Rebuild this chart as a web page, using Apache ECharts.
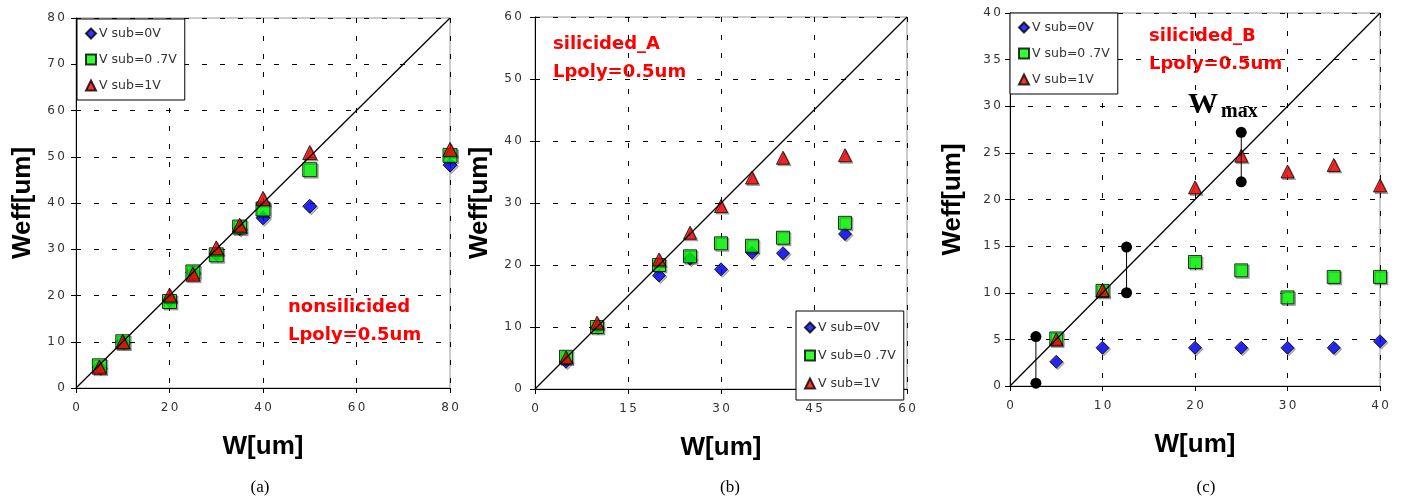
<!DOCTYPE html>
<html>
<head>
<meta charset="utf-8">
<script src="https://cdn.jsdelivr.net/npm/echarts@6/dist/echarts.min.js"></script>
<style>
  html, body { margin: 0; padding: 0; background: #fff; }
  #main { width: 1408px; height: 502px; }
</style>
</head>
<body>
<div id="main"></div>
<script>
// panel (a) nonsilicided
var wA = [5, 10, 20, 25, 30, 35, 40, 50, 80];
var a_0V = [4.5, 10, 19, 25, 29, 34.5, 36.8, 39.3, 48.2];
var a_07V = [4.8, 10, 18.7, 25.1, 28.8, 34.8, 38.7, 47.2, 50.3];
var a_1V = [4.5, 10, 20.1, 24.6, 30.3, 35.2, 41, 50.9, 51.6];

// panel (b) silicided_A
var wB = [5, 10, 20, 25, 30, 35, 40, 50];
var b_0V = [4.4, 10, 18.3, 21, 19.3, 22, 21.9, 25];
var b_07V = [5.2, 10, 20, 21.4, 23.5, 23.1, 24.4, 26.8];
var b_1V = [5.1, 10.7, 20.9, 25.2, 29.5, 34.1, 37.3, 37.7];

// panel (c) silicided_B
var wC = [5, 10, 20, 25, 30, 35, 40];
var c_0V = [2.6, 4.1, 4.1, 4.1, 4.1, 4.1, 4.8];
var c_07V = [5.1, 10.2, 13.3, 12.4, 9.5, 11.7, 11.7];
var c_1V = [5, 10.3, 21.3, 24.7, 23, 23.7, 21.5];
// Wmax range bars: [W, low, high]
var wmaxBars = [[2.8, 0.3, 5.3], [12.6, 10, 14.9], [25, 21.9, 27.2]];

var names = ['V sub=0V', 'V sub=0 .7V', 'V sub=1V'];
var axisMax = [80, 60, 40];
var xStep = [20, 15, 10];
var yStep = [10, 10, 5];

var chart = echarts.init(document.getElementById('main'));

// spaced-out digits like the original plot
var spaced = function (v) { return String(v).split('').join('\u2009'); };
var tickFont = { color: '#333', fontFamily: 'DejaVu Sans', fontSize: 12, formatter: spaced };
var nameFont = { color: '#000', fontFamily: 'Liberation Sans', fontWeight: 'bold', fontSize: 26 };
var dashed = { show: true, lineStyle: { color: '#000', width: 1, type: [5, 13] } };
var blackLine = { show: true, onZero: false, lineStyle: { color: '#000', width: 1 } };

var xAxes = [], yAxes = [];
var yGap = [40, 42, 44];
var yMargin = [11, 13, 9];
for (var i = 0; i < 3; i++) {
    xAxes.push({
        type: 'value', gridIndex: i, min: 0, max: axisMax[i], interval: xStep[i],
        name: 'W[um]', nameLocation: 'middle', nameGap: 46, nameTextStyle: nameFont,
        axisLine: blackLine,
        axisTick: { show: true, length: 5, lineStyle: { color: '#000' } },
        axisLabel: Object.assign({ margin: 14 }, tickFont),
        splitLine: dashed
    });
    yAxes.push({
        type: 'value', gridIndex: i, min: 0, max: axisMax[i], interval: yStep[i],
        name: 'Weff[um]', nameLocation: 'middle', nameGap: yGap[i], nameTextStyle: nameFont,
        axisLine: blackLine,
        axisTick: { show: true, length: 5, lineStyle: { color: '#000' } },
        axisLabel: Object.assign({ margin: yMargin[i] }, tickFont),
        splitLine: dashed
    });
}

var shadow = { borderColor: '#000', borderWidth: 1, shadowColor: 'rgba(0,0,0,0.35)', shadowOffsetX: 1.5, shadowOffsetY: 1.5 };
function scatter(name, gi, xs, ys, symbol, color, size) {
    return {
        name: name, type: 'scatter', xAxisIndex: gi, yAxisIndex: gi,
        symbol: symbol, symbolSize: size,
        itemStyle: Object.assign({ color: color }, shadow),
        data: xs.map(function (x, k) { return [x, ys[k]]; })
    };
}
function ideal(gi) {
    return {
        type: 'line', xAxisIndex: gi, yAxisIndex: gi, symbol: 'none', silent: true,
        lineStyle: { color: '#000', width: 1.3 },
        data: [[0, 0], [axisMax[gi], axisMax[gi]]]
    };
}

var series = [ideal(0), ideal(1), ideal(2)];
var panels = [[wA, a_0V, a_07V, a_1V, 14], [wB, b_0V, b_07V, b_1V, 13], [wC, c_0V, c_07V, c_1V, 13]];
panels.forEach(function (p, gi) {
    series.push(scatter(names[0], gi, p[0], p[1], 'diamond', '#0000ff', p[4]));
    series.push(scatter(names[1], gi, p[0], p[2], 'rect', '#00ff00', p[4]));
    series.push(scatter(names[2], gi, p[0], p[3], 'triangle', '#ff0000', p[4]));
});
wmaxBars.forEach(function (b) {
    series.push({
        type: 'line', xAxisIndex: 2, yAxisIndex: 2, symbol: 'circle', symbolSize: 11,
        itemStyle: { color: '#000' }, lineStyle: { color: '#000', width: 1 },
        data: [[b[0], b[1]], [b[0], b[2]]]
    });
});

function legend(left, top, gap, pad) {
    return {
        left: left, top: top, orient: 'vertical', data: names, selectedMode: false,
        backgroundColor: '#fff', borderColor: '#000', borderWidth: 1,
        padding: pad, itemGap: gap, itemWidth: 10, itemHeight: 10,
        textStyle: { color: '#333', fontFamily: 'DejaVu Sans', fontSize: 12.5, padding: [0, 0, 0, -2] }
    };
}

function redText(left, top, txt) {
    return {
        type: 'text', left: left, top: top,
        style: { text: txt, fill: '#ff0000', font: 'bold 18px "DejaVu Sans"', lineHeight: 28 }
    };
}
function caption(x, txt) {
    return {
        type: 'text', x: x, y: 488,
        style: { text: txt, fill: '#000', font: '17px "Liberation Serif"', align: 'center', verticalAlign: 'middle' }
    };
}

var option = {
    animation: false,
    backgroundColor: '#fff',
    grid: [
        { left: 76, top: 18, width: 374, height: 370, show: true, borderColor: '#999', borderWidth: 1 },
        { left: 535, top: 17, width: 372, height: 372, show: true, borderColor: '#999', borderWidth: 1 },
        { left: 1010, top: 13, width: 370, height: 373, show: true, borderColor: '#999', borderWidth: 1 }
    ],
    xAxis: xAxes,
    yAxis: yAxes,
    legend: [
        legend(77, 19, 13, [8, 8]),
        legend(796, 311, 15, [10, 8]),
        legend(1010, 13, 13, [8, 8])
    ],
    graphic: [
        redText(288, 293, 'nonsilicided\nLpoly=0.5um'),
        redText(553, 30, 'silicided_A\nLpoly=0.5um'),
        redText(1149, 22, 'silicided_B\nLpoly=0.5um'),
        { type: 'text', left: 1188, top: 90, style: { text: 'W', fill: '#000', font: 'bold 30px "Liberation Serif"' } },
        { type: 'text', left: 1221, top: 102, style: { text: 'max', fill: '#000', font: 'bold 20px "Liberation Serif"' } },
        caption(260, '(a)'),
        caption(730, '(b)'),
        caption(1206, '(c)')
    ],
    series: series
};
chart.setOption(option);
</script>
</body>
</html>
